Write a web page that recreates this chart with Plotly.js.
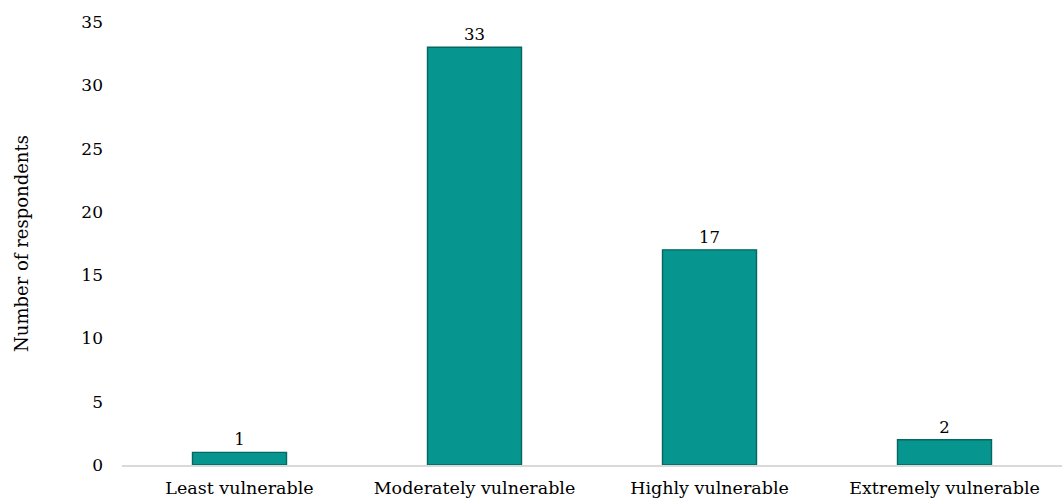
<!DOCTYPE html>
<html><head><meta charset="utf-8">
<script src="https://cdn.plot.ly/plotly-3.0.1.min.js"></script>
<style>html,body{margin:0;padding:0;background:#fff}#c{width:1062px;height:500px}</style>
</head><body><div id="c"></div>
<script>
const categories = ["Least vulnerable", "Moderately vulnerable", "Highly vulnerable", "Extremely vulnerable"];
const respondents = [1, 33, 17, 2];
const yTicks = [0, 5, 10, 15, 20, 25, 30, 35];
const yTitle = "Number of respondents";

const font = "Georgia, 'DejaVu Serif', serif";
Plotly.newPlot("c", [{
  type: "bar",
  x: categories,
  y: respondents,
  text: respondents.map(String),
  textposition: "outside",
  cliponaxis: false,
  textfont: {family: font, size: 16.5, color: "#000"},
  marker: {color: "#07968f", line: {color: "#056662", width: 1.4}},
  hoverinfo: "none"
}], {
  width: 1062, height: 500,
  margin: {l: 122, r: 0, t: 22, b: 35},
  paper_bgcolor: "#fff", plot_bgcolor: "#fff",
  bargap: 0.6,
  showlegend: false,
  font: {family: font, size: 17, color: "#000"},
  xaxis: {
    showline: true, linecolor: "#d9d9d9", linewidth: 1.5,
    ticks: "", showgrid: false, zeroline: false,
    ticklabelstandoff: 6,
    tickfont: {family: font, size: 17.5, color: "#000"}
  },
  yaxis: {
    range: [0, 35], tickvals: yTicks, ticktext: yTicks.map(String),
    showgrid: false, zeroline: false, showline: false, ticks: "",
    ticklabelstandoff: 18,
    tickfont: {family: font, size: 17, color: "#000"},
    title: {text: yTitle, standoff: 48, font: {family: font, size: 18, color: "#000"}}
  }
}, {staticPlot: true});
</script></body></html>
